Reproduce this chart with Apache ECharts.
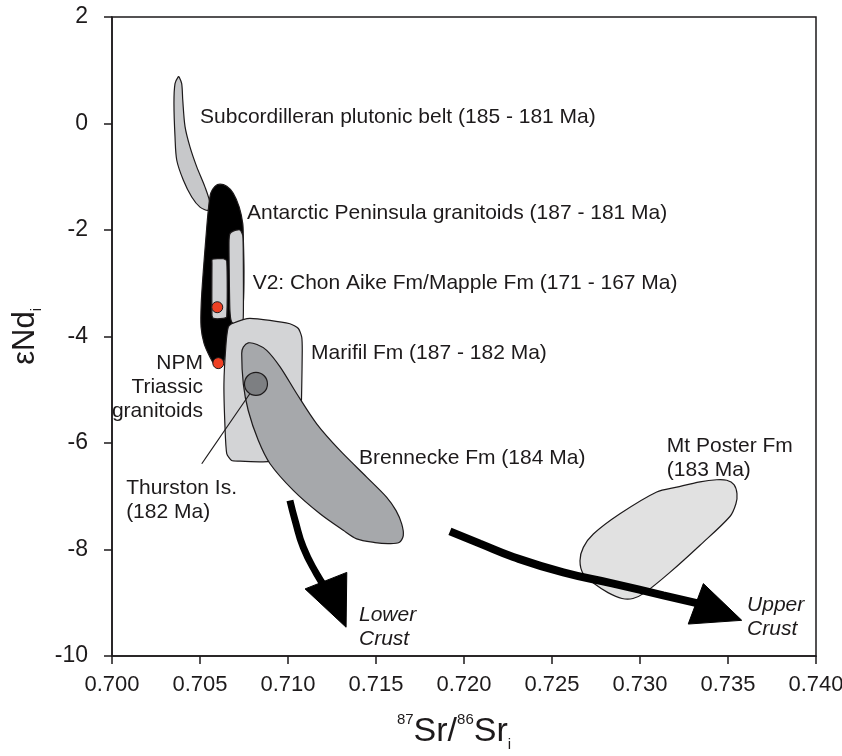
<!DOCTYPE html>
<html>
<head>
<meta charset="utf-8">
<script src="https://cdn.jsdelivr.net/npm/echarts@6/dist/echarts.min.js"></script>
<style>html,body{margin:0;padding:0;background:#fff}#chart{width:842px;height:756px}</style>
</head>
<body>
<div id="chart"></div>
<script>
// ---------- data ----------
const xTickValues = [0.700, 0.705, 0.710, 0.715, 0.720, 0.725, 0.730, 0.735, 0.740];
const yTickValues = [-10, -8, -6, -4, -2, 0, 2];

// field outlines: [87Sr/86Sr_i, eNd_i]
const subcordilleranBelt = [[0.70377,0.88],[0.70358,0.75],[0.70352,0.38],[0.70358,-0.25],[0.70368,-0.69],[0.70405,-1.06],[0.70453,-1.38],[0.70500,-1.57],[0.70547,-1.63],[0.70557,-1.50],[0.70528,-1.19],[0.70481,-0.81],[0.70443,-0.44],[0.70415,-0.06],[0.70402,0.44],[0.70396,0.75],[0.70382,0.87]];
const antarcticPeninsula = [[0.70614,-1.14],[0.70652,-1.18],[0.70689,-1.31],[0.70723,-1.57],[0.70743,-1.88],[0.70746,-2.13],[0.70750,-2.76],[0.70746,-3.38],[0.70727,-3.76],[0.70689,-3.95],[0.70661,-4.13],[0.70642,-4.39],[0.70623,-4.54],[0.70604,-4.57],[0.70585,-4.54],[0.70557,-4.39],[0.70523,-4.13],[0.70506,-3.82],[0.70507,-3.38],[0.70519,-2.76],[0.70534,-2.13],[0.70547,-1.63],[0.70561,-1.31],[0.70585,-1.18]];
const chonAikeEast = [[0.70689,-2.02],[0.70727,-2.00],[0.70743,-2.10],[0.70746,-2.51],[0.70746,-3.63],[0.70737,-3.77],[0.70709,-3.79],[0.70680,-3.73],[0.70670,-3.51],[0.70666,-2.76],[0.70665,-2.19],[0.70670,-2.07]];
const chonAikeWest = [[0.70570,-2.55],[0.70632,-2.54],[0.70652,-2.58],[0.70652,-3.63],[0.70632,-3.66],[0.70576,-3.66],[0.70568,-3.60],[0.70568,-2.63]];
const marifil = [[0.70680,-3.76],[0.70784,-3.66],[0.71011,-3.76],[0.71059,-3.85],[0.71078,-4.01],[0.71081,-4.26],[0.71078,-4.95],[0.71074,-5.58],[0.71068,-6.23],[0.70886,-6.35],[0.70727,-6.34],[0.70680,-6.33],[0.70652,-6.20],[0.70642,-5.70],[0.70636,-4.89],[0.70648,-4.13],[0.70661,-3.82]];
const brennecke = [[0.70774,-4.12],[0.70824,-4.15],[0.70879,-4.26],[0.70955,-4.57],[0.71049,-5.07],[0.71163,-5.64],[0.71295,-6.14],[0.71447,-6.64],[0.71561,-7.02],[0.71614,-7.27],[0.71646,-7.52],[0.71655,-7.74],[0.71631,-7.87],[0.71568,-7.89],[0.71494,-7.87],[0.71390,-7.80],[0.71314,-7.64],[0.71182,-7.33],[0.71030,-6.89],[0.70898,-6.39],[0.70831,-5.95],[0.70774,-5.39],[0.70746,-4.89],[0.70737,-4.32],[0.70746,-4.20]];
const mtPoster = [[0.73436,-6.69],[0.73493,-6.70],[0.73534,-6.78],[0.73551,-6.95],[0.73545,-7.14],[0.73511,-7.38],[0.73341,-7.92],[0.73170,-8.43],[0.73028,-8.81],[0.72960,-8.92],[0.72898,-8.92],[0.72818,-8.81],[0.72739,-8.64],[0.72678,-8.46],[0.72659,-8.21],[0.72678,-7.96],[0.72735,-7.71],[0.72886,-7.33],[0.73095,-6.92],[0.73209,-6.83],[0.73341,-6.73]];

const thurstonIsland = [[0.70818,-4.89]];
const npmTriassic = [[0.70598,-3.45],[0.70604,-4.50]];
const thurstonLeader = [[0.70784,-5.07],[0.70510,-6.39]];

const lowerCrustPath = [[0.71011,-7.08],[0.71040,-7.45],[0.71087,-7.96],[0.71163,-8.46],[0.71216,-8.73]];
const lowerCrustHead = [[0.71097,-8.74],[0.71334,-8.43],[0.71330,-9.46]];
const upperCrustPath = [[0.71920,-7.66],[0.72091,-7.89],[0.72280,-8.14],[0.72564,-8.43],[0.72848,-8.64],[0.73132,-8.86],[0.73341,-9.02]];
const upperCrustHead = [[0.73360,-8.64],[0.73578,-9.33],[0.73274,-9.40]];

const labelText = ['Subcordilleran plutonic belt (185 - 181 Ma)','Antarctic Peninsula granitoids (187 - 181 Ma)','V2: Chon Aike Fm/Mapple Fm (171 - 167 Ma)','Marifil Fm (187 - 182 Ma)','Brennecke Fm (184 Ma)','Thurston Is.\n(182 Ma)','Mt Poster Fm\n(183 Ma)'];
const labelAt = [[0.70500,0.12],[0.70767,-1.68],[0.70799,-2.99],[0.71131,-4.32],[0.71403,-6.29],[0.70080,-7.08],[0.73152,-6.29]];
const rightLabelText = ['NPM\nTriassic\ngranitoids'];
const rightLabelAt = [[0.70517,-4.95]];
const crustLabelText = ['Lower\nCrust','Upper\nCrust'];
const crustLabelAt = [[0.71403,-9.46],[0.73608,-9.27]];

// ---------- chart ----------
const FONT = "'Liberation Sans', Arial, Helvetica, sans-serif";
const INK = '#1d1a1b';

function polygonSeries(points, fill, z, smooth) {
  return {
    type: 'custom', coordinateSystem: 'cartesian2d', silent: true, z: z,
    data: [points[0]],
    renderItem: function (params, api) {
      return {
        type: 'polygon',
        shape: { points: points.map(function (p) { return api.coord(p); }), smooth: smooth },
        style: { fill: fill, stroke: INK, lineWidth: 1.2 }
      };
    }
  };
}
function headSeries(points, z) {
  return {
    type: 'custom', coordinateSystem: 'cartesian2d', silent: true, z: z,
    data: [points[0]],
    renderItem: function (params, api) {
      return { type: 'polygon', shape: { points: points.map(function (p) { return api.coord(p); }) }, style: { fill: '#000', stroke: '#000', lineWidth: 1 } };
    }
  };
}
function labelSeries(texts, at, pos, align, italic, z) {
  return {
    type: 'scatter', silent: true, z: z, symbolSize: 0.1,
    itemStyle: { color: 'rgba(0,0,0,0)', opacity: 1 },
    data: texts.map(function (t, i) { return { name: t, value: at[i] }; }),
    label: {
      show: true, position: pos, distance: 0, align: align,
      formatter: function (p) { return p.name; },
      fontFamily: FONT, fontSize: 21, color: INK, lineHeight: 24, opacity: 1,
      fontStyle: italic ? 'italic' : 'normal'
    }
  };
}

const chart = echarts.init(document.getElementById('chart'), null, { renderer: 'canvas' });
chart.setOption({
  animation: false,
  backgroundColor: '#fff',
  grid: { left: 112, right: 26, top: 17, bottom: 100, containLabel: false, outerBoundsMode: 'none',
    show: true, borderColor: INK, borderWidth: 1.5 },
  xAxis: {
    type: 'value',
    min: xTickValues[0], max: xTickValues[xTickValues.length - 1],
    interval: xTickValues[1] - xTickValues[0],
    splitLine: { show: false },
    axisLine: { onZero: false, lineStyle: { color: INK, width: 1.5 } },
    axisTick: { length: 8, lineStyle: { color: INK, width: 1.5 } },
    axisLabel: { color: INK, fontFamily: FONT, fontSize: 22, margin: 18,
      formatter: function (v) { return v.toFixed(3); } },
    name: '{sup|87}{b|Sr/}{sup|86}{b|Sr}{sub|i}',
    nameLocation: 'middle', nameGap: 56,
    nameTextStyle: { padding: [0, 20, 0, 0], rich: {
      b: { fontFamily: FONT, fontSize: 34, color: INK, lineHeight: 40 },
      sup: { fontFamily: FONT, fontSize: 15, color: INK, verticalAlign: 'top' },
      sub: { fontFamily: FONT, fontSize: 15, color: INK, verticalAlign: 'bottom' }
    } }
  },
  yAxis: {
    type: 'value',
    min: yTickValues[0], max: yTickValues[yTickValues.length - 1],
    interval: yTickValues[1] - yTickValues[0],
    splitLine: { show: false },
    axisLine: { onZero: false, lineStyle: { color: INK, width: 1.5 } },
    axisTick: { length: 8, lineStyle: { color: INK, width: 1.5 } },
    axisLabel: { color: INK, fontFamily: FONT, fontSize: 23, margin: 24 },
    name: '{b|εNd}{sub|i}',
    nameLocation: 'middle', nameGap: 66, nameRotate: 90,
    nameTextStyle: { rich: {
      b: { fontFamily: FONT, fontSize: 31, color: INK, lineHeight: 36 },
      sub: { fontFamily: FONT, fontSize: 14, color: INK, verticalAlign: 'bottom' }
    } }
  },
  series: [
    polygonSeries(subcordilleranBelt, '#c7c8ca', 3, 0.3),
    polygonSeries(antarcticPeninsula, '#000000', 4, 0.3),
    polygonSeries(chonAikeWest, '#d0d1d3', 5, 0.2),
    polygonSeries(chonAikeEast, '#d0d1d3', 6, 0.2),
    polygonSeries(marifil, '#d3d4d6', 7, 0.2),
    polygonSeries(brennecke, '#a6a8ab', 8, 0.3),
    polygonSeries(mtPoster, '#e1e1e1', 9, 0.3),
    {
      type: 'line', silent: true, z: 10, data: thurstonLeader, symbol: 'none',
      lineStyle: { color: INK, width: 1.2 }
    },
    {
      type: 'scatter', silent: true, z: 11, data: thurstonIsland, symbolSize: 23,
      itemStyle: { color: '#7d7f82', borderColor: INK, borderWidth: 1.2, opacity: 1 }
    },
    {
      type: 'scatter', silent: true, z: 12, data: npmTriassic, symbolSize: 11,
      itemStyle: { color: '#ee4024', borderColor: INK, borderWidth: 1, opacity: 1 }
    },
    {
      type: 'line', silent: true, z: 13, data: lowerCrustPath, symbol: 'none', smooth: true,
      lineStyle: { color: '#000', width: 7, cap: 'butt' }
    },
    headSeries(lowerCrustHead, 14),
    {
      type: 'line', silent: true, z: 15, data: upperCrustPath, symbol: 'none', smooth: true,
      lineStyle: { color: '#000', width: 8, cap: 'butt' }
    },
    headSeries(upperCrustHead, 16),
    labelSeries(labelText, labelAt, 'right', 'left', false, 20),
    labelSeries(rightLabelText, rightLabelAt, 'left', 'right', false, 20),
    labelSeries(crustLabelText, crustLabelAt, 'right', 'left', true, 20)
  ]
});
</script>
</body>
</html>
